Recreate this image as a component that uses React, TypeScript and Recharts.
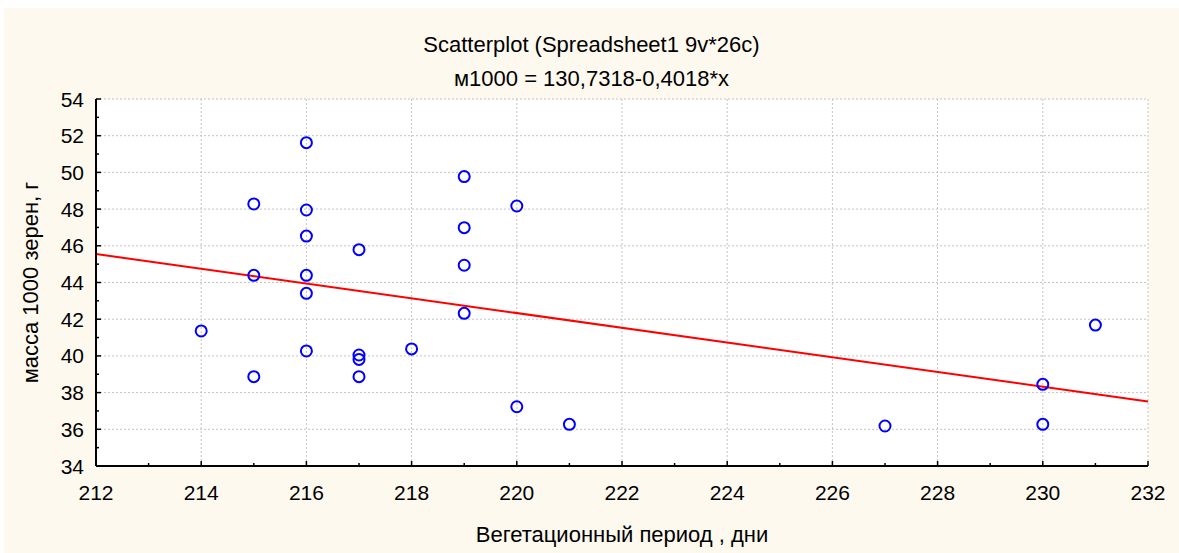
import {
  ScatterChart,
  Scatter,
  XAxis,
  YAxis,
  CartesianGrid,
  ReferenceLine,
} from "recharts";

// Вегетационный период (дни) и масса 1000 зерен (г), 26 наблюдений
const periodDays = [
  214,
  215, 215, 215,
  216, 216, 216, 216, 216, 216,
  217, 217, 217, 217,
  218,
  219, 219, 219, 219,
  220, 220,
  221,
  227,
  230, 230,
  231,
];
const grainMass = [
  41.36,
  48.28, 44.39, 38.87,
  51.62, 47.95, 46.53, 44.39, 43.41, 40.27,
  45.79, 40.05, 39.81, 38.87,
  40.38,
  49.77, 46.99, 44.94, 42.32,
  48.17, 37.23,
  36.27,
  36.18,
  38.45, 36.27,
  41.68,
];

// регрессия из заголовка: м1000 = 130,7318-0,4018*x
const intercept = 130.7318;
const slope = -0.4018;

const xMajorTicks = [212, 214, 216, 218, 220, 222, 224, 226, 228, 230, 232];
const xAllTicks = [
  212, 213, 214, 215, 216, 217, 218, 219, 220, 221, 222,
  223, 224, 225, 226, 227, 228, 229, 230, 231, 232,
];
const yMajorTicks = [34, 36, 38, 40, 42, 44, 46, 48, 50, 52, 54];
const yAllTicks = [
  34, 35, 36, 37, 38, 39, 40, 41, 42, 43, 44,
  45, 46, 47, 48, 49, 50, 51, 52, 53, 54,
];

const FONT = '"Liberation Sans", Arial, sans-serif';
const points = periodDays.map((x, i) => ({ x, y: grainMass[i] }));
const fit = (x: number) => intercept + slope * x;

const isMajor = (v: number) => v % 2 === 0;

function BottomTick({ x, y, payload }: any) {
  const major = isMajor(payload.value);
  return (
    <g>
      <line x1={x} x2={x} y1={y} y2={y - (major ? 5 : 3)} stroke="#000" strokeWidth={1.5} />
      {major && (
        <text x={x} y={y + 34} textAnchor="middle" fontSize={21} fontFamily={FONT} fill="#000">
          {payload.value}
        </text>
      )}
    </g>
  );
}

function TopTick({ x, y, payload }: any) {
  const major = isMajor(payload.value);
  return <line x1={x} x2={x} y1={y} y2={y + (major ? 5 : 3)} stroke="#000" strokeWidth={1.5} />;
}

function LeftTick({ x, y, payload }: any) {
  const major = isMajor(payload.value);
  return (
    <g>
      <line x1={x} x2={x + (major ? 5 : 3)} y1={y} y2={y} stroke="#000" strokeWidth={1.5} />
      {major && (
        <text x={x - 12} y={y} dy="0.36em" textAnchor="end" fontSize={21} fontFamily={FONT} fill="#000">
          {payload.value}
        </text>
      )}
    </g>
  );
}

function RightTick({ x, y, payload }: any) {
  const major = isMajor(payload.value);
  return <line x1={x} x2={x - (major ? 5 : 3)} y1={y} y2={y} stroke="#000" strokeWidth={1.5} />;
}

const renderCircle = (props: any) => (
  <circle cx={props.cx} cy={props.cy} r={5.5} fill="none" stroke="#0000ff" strokeWidth={2} />
);

export default function App() {
  const axisLine = { stroke: "#000", strokeWidth: 2 };
  return (
    <div
      style={{
        position: "fixed",
        left: 4,
        top: 8,
        right: 0,
        bottom: 0,
        background: "#fdf9ee",
        fontFamily: FONT,
        color: "#000",
        overflow: "hidden",
      }}
    >
      <div style={{ position: "absolute", left: 0, top: 24, width: 1175, textAlign: "center", fontSize: 22, lineHeight: "normal" }}>
        Scatterplot (Spreadsheet1 9v*26c)
      </div>
      <div style={{ position: "absolute", left: 0, top: 58, width: 1175, textAlign: "center", fontSize: 22, lineHeight: "normal" }}>
        м1000 = 130,7318-0,4018*x
      </div>
      <div style={{ position: "absolute", left: 0, top: 0 }}>
        <ScatterChart width={1175} height={545} margin={{ top: 91, right: 31, bottom: 7, left: 12 }}>
          <CartesianGrid
            fill="#ffffff"
            stroke="#c4c4c4"
            strokeDasharray="2 2"
            verticalValues={xMajorTicks}
            horizontalValues={yMajorTicks}
          />
          <XAxis
            dataKey="x"
            type="number"
            domain={[212, 232]}
            ticks={xAllTicks}
            interval={0}
            height={80}
            tickSize={0}
            tickMargin={0}
            tickLine={false}
            axisLine={axisLine}
            tick={<BottomTick />}
            label={{
              value: "Вегетационный период , дни",
              position: "insideBottom",
              offset: 4,
              style: { fontSize: 22, fontFamily: FONT, fill: "#000" },
            }}
          />
          <XAxis
            xAxisId="top"
            orientation="top"
            type="number"
            domain={[212, 232]}
            ticks={xAllTicks}
            interval={0}
            height={0}
            tickSize={0}
            tickMargin={0}
            tickLine={false}
            axisLine={axisLine}
            tick={<TopTick />}
          />
          <YAxis
            dataKey="y"
            type="number"
            domain={[34, 54]}
            ticks={yAllTicks}
            interval={0}
            width={80}
            tickSize={0}
            tickMargin={0}
            tickLine={false}
            axisLine={axisLine}
            tick={<LeftTick />}
            label={{
              value: "масса 1000 зерен, г",
              angle: -90,
              position: "insideLeft",
              offset: 14,
              style: { textAnchor: "middle", fontSize: 22, fontFamily: FONT, fill: "#000" },
            }}
          />
          <YAxis
            yAxisId="right"
            orientation="right"
            type="number"
            domain={[34, 54]}
            ticks={yAllTicks}
            interval={0}
            width={0}
            tickSize={0}
            tickMargin={0}
            tickLine={false}
            axisLine={axisLine}
            tick={<RightTick />}
          />
          <ReferenceLine
            segment={[
              { x: 212, y: fit(212) },
              { x: 232, y: fit(232) },
            ]}
            stroke="#ff0000"
            strokeWidth={2}
          />
          <Scatter data={points} shape={renderCircle} isAnimationActive={false} />
        </ScatterChart>
      </div>
    </div>
  );
}
